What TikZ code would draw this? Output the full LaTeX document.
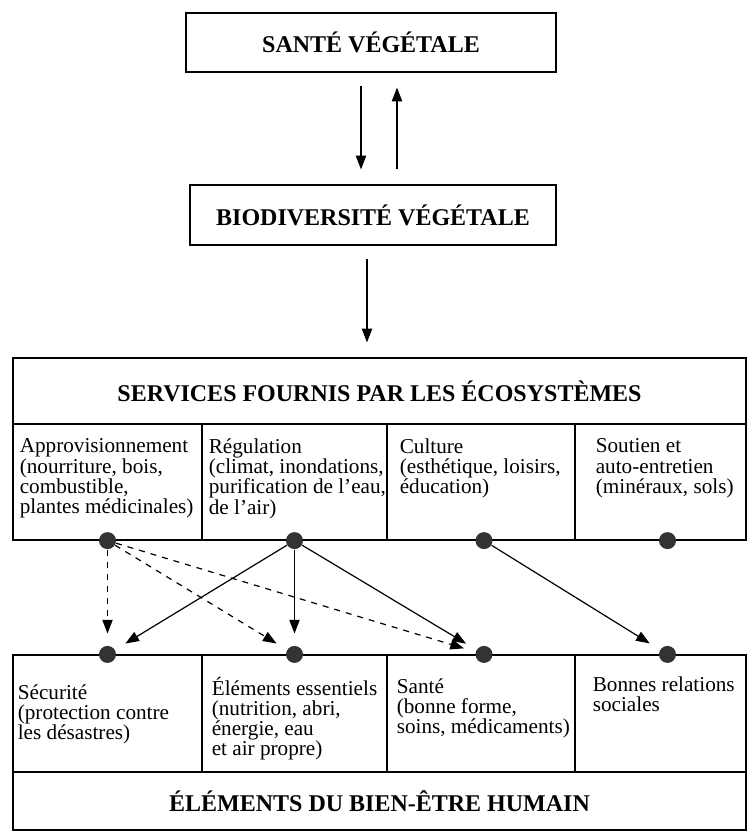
\documentclass[tikz,border=0pt]{standalone}
\usepackage{fontspec}
\setmainfont{Liberation Serif}
\usetikzlibrary{positioning,arrows.meta}

\begin{document}
\begin{tikzpicture}[x=0.5pt,y=-0.5pt,>={Triangle[length=2.4mm,width=1.8mm]},
  box/.style={draw,line width=0.6pt,inner sep=0pt},
  titre/.style={font=\fontsize{12}{14}\selectfont\bfseries},
  cell/.style={box,minimum height=58pt},
  celltext/.style={font=\fontsize{10.6}{10.1}\selectfont,align=left,inner sep=0pt,anchor=north west},
  dot/.style={circle,fill=black!80,inner sep=0pt,minimum size=8.5pt},
  link/.style={->,line width=0.6pt},
  flow/.style={link,shorten >=6pt},
  dflow/.style={flow,dashed}]
\useasboundingbox (0,0) rectangle (751,834);

% upper boxes
\node[box,titre,minimum width=185pt,minimum height=29.5pt] (sante) at (371,42.5) {SANTÉ VÉGÉTALE};
\node[box,titre,minimum width=183pt,minimum height=30pt] (biodiv) at (373,215) {BIODIVERSITÉ VÉGÉTALE};
\coordinate (s1) at ([xshift=-5pt]sante.south);
\coordinate (s2) at ([xshift=13pt]sante.south);
\draw[link,shorten <=6.5pt,shorten >=7.5pt] (s1) -- (s1 |- biodiv.north);
\draw[link,shorten <=7.5pt,shorten >=7.5pt] (s2 |- biodiv.north) -- (s2);

% services
\node[box,titre,minimum width=366.5pt,minimum height=33pt] (services) at (379.5,391) {SERVICES FOURNIS PAR LES ÉCOSYSTÈMES};
\coordinate (s3) at ([xshift=-3pt]biodiv.south);
\draw[link,shorten <=6.5pt,shorten >=7.5pt] (s3) -- (s3 |- services.north);

\node[cell,minimum width=94.5pt] (approv) at (107.5,482) {};
\node[cell,minimum width=92.5pt] (regul) at (294.5,482) {};
\node[cell,minimum width=94pt] (culture) at (481,482) {};
\node[cell,minimum width=85.5pt] (soutien) at (660.5,482) {};
\node[celltext] at ([shift={(3.5pt,-7.5pt)}]approv.north west) {Approvisionnement\\(nourriture, bois,\\combustible,\\plantes médicinales)};
\node[celltext] at ([shift={(3.5pt,-7.5pt)}]regul.north west) {Régulation\\(climat, inondations,\\purification de l'eau,\\de l'air)};
\node[celltext] at ([shift={(6.5pt,-7.5pt)}]culture.north west) {Culture\\(esthétique, loisirs,\\éducation)};
\node[celltext] at ([shift={(10.5pt,-7.5pt)}]soutien.north west) {Soutien et\\auto-entretien\\(minéraux, sols)};

% bien-etre
\node[cell,minimum width=94.5pt,minimum height=58.5pt] (secu) at (107.5,713.5) {};
\node[cell,minimum width=92.5pt,minimum height=58.5pt] (essent) at (294.5,713.5) {};
\node[cell,minimum width=94pt,minimum height=58.5pt] (sante2) at (481,713.5) {};
\node[cell,minimum width=85.5pt,minimum height=58.5pt] (relations) at (660.5,713.5) {};
\node[box,titre,minimum width=366.5pt,minimum height=29pt] (bienetre) at (379.5,801) {ÉLÉMENTS DU BIEN-ÊTRE HUMAIN};
\node[celltext] at ([shift={(2.5pt,-15pt)}]secu.north west) {Sécurité\\(protection contre\\les désastres)};
\node[celltext] at ([shift={(5pt,-11pt)}]essent.north west) {Éléments essentiels\\(nutrition, abri,\\énergie, eau\\et air propre)};
\node[celltext] at ([shift={(5pt,-12pt)}]sante2.north west) {Santé\\(bonne forme,\\soins, médicaments)};
\node[celltext] at ([shift={(9pt,-11pt)}]relations.north west) {Bonnes relations\\sociales};

% points
\node[dot] (d1) at (approv.south) {};
\node[dot] (d2) at (regul.south) {};
\node[dot] (d3) at ([xshift=1.5pt]culture.south) {};
\node[dot] (d4) at ([xshift=3.5pt]soutien.south) {};
\node[dot] (b1) at (secu.north) {};
\node[dot] (b2) at (essent.north) {};
\node[dot] (b3) at ([xshift=1.5pt]sante2.north) {};
\node[dot] (b4) at ([xshift=3.5pt]relations.north) {};

\draw[dflow] (d1) -- (b1);
\draw[dflow] (d1) -- (b2);
\draw[dflow] (d1) -- (b3);
\draw[flow] (d2) -- (b1);
\draw[flow] (d2) -- (b2);
\draw[flow] (d2) -- (b3);
\draw[flow] (d3) -- (b4);
\end{tikzpicture}
\end{document}
